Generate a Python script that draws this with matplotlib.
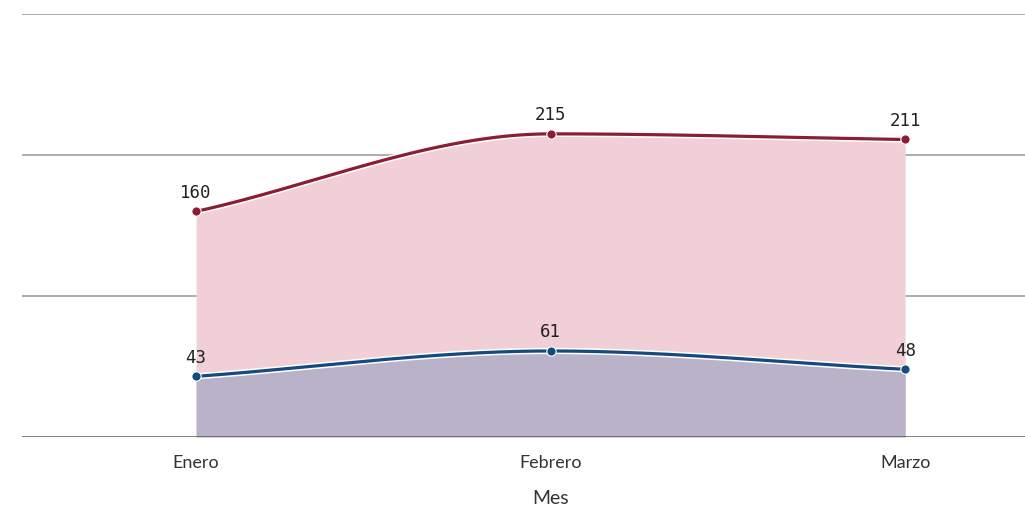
import numpy as np
import matplotlib
matplotlib.use("Agg")
import matplotlib.pyplot as plt
import matplotlib.patheffects as pe

meses = ["Enero", "Febrero", "Marzo"]
serie_a = [160, 215, 211]
serie_b = [43, 61, 48]


def monotone(xs, ys, n=200):
    # Fritsch-Carlson monotone cubic, only for drawing the smooth line
    xs = np.asarray(xs, float)
    ys = np.asarray(ys, float)
    h = np.diff(xs)
    d = np.diff(ys) / h
    m = np.zeros_like(ys)
    m[0], m[-1] = d[0], d[-1]
    for i in range(1, len(ys) - 1):
        if d[i - 1] * d[i] <= 0:
            m[i] = 0
        else:
            m[i] = 2 / (1 / d[i - 1] + 1 / d[i])
    xx = np.linspace(xs[0], xs[-1], n)
    idx = np.clip(np.searchsorted(xs, xx) - 1, 0, len(xs) - 2)
    t = (xx - xs[idx]) / h[idx]
    h00 = 2 * t**3 - 3 * t**2 + 1
    h10 = t**3 - 2 * t**2 + t
    h01 = -2 * t**3 + 3 * t**2
    h11 = t**3 - t**2
    yy = h00 * ys[idx] + h10 * h[idx] * m[idx] + h01 * ys[idx + 1] + h11 * h[idx] * m[idx + 1]
    return xx, yy


fig = plt.figure(figsize=(10.25, 5.08), dpi=100)
ax = fig.add_axes([0.0215, 0.1398, 0.9785, 0.8326])

x = np.arange(len(meses))
halo = [pe.Stroke(linewidth=4.5, foreground="white"), pe.Normal()]

for vals, line_c, fill_c in [(serie_a, "#8c1d35", "#f0d0d6"),
                             (serie_b, "#154a80", "#bab2c9")]:
    xx, yy = monotone(x, vals)
    ax.fill_between(xx, 0, yy, color=fill_c, lw=0, zorder=2)
    ax.plot(xx, yy, color=line_c, lw=2.3, zorder=4, path_effects=halo)
    ax.scatter(x, vals, s=45, color=line_c, edgecolor="white", linewidth=0.8, zorder=5)
    for xi, v in zip(x, vals):
        ax.annotate(str(v), (xi, v), xytext=(0, 7), textcoords="offset points",
                    ha="center", va="bottom", fontsize=12.5,
                    family="DejaVu Sans Mono", color="#222222", zorder=6)

ax.set_xlim(-0.491, 2.338)
ax.set_ylim(0, 300)
ax.set_yticks([100, 200, 300])
ax.yaxis.grid(True, color="#a6a6a6", lw=1.3, zorder=1)
ax.axhline(0, color="#5a5a5a", lw=1.8, zorder=3)
ax.set_yticklabels([])
ax.tick_params(axis="y", length=0)
ax.set_xticks(x)
ax.set_xticklabels(meses, family="Lato", fontsize=13, color="#333333")
ax.tick_params(axis="x", length=0, pad=13)
ax.set_xlabel("Mes", family="Lato", fontsize=14, color="#333333")
# label sits under the middle category, not the axes centre
ax.xaxis.set_label_coords((1 + 0.491) / 2.829, -0.125)
for s in ax.spines.values():
    s.set_visible(False)

fig.savefig("out.png", dpi=100)
